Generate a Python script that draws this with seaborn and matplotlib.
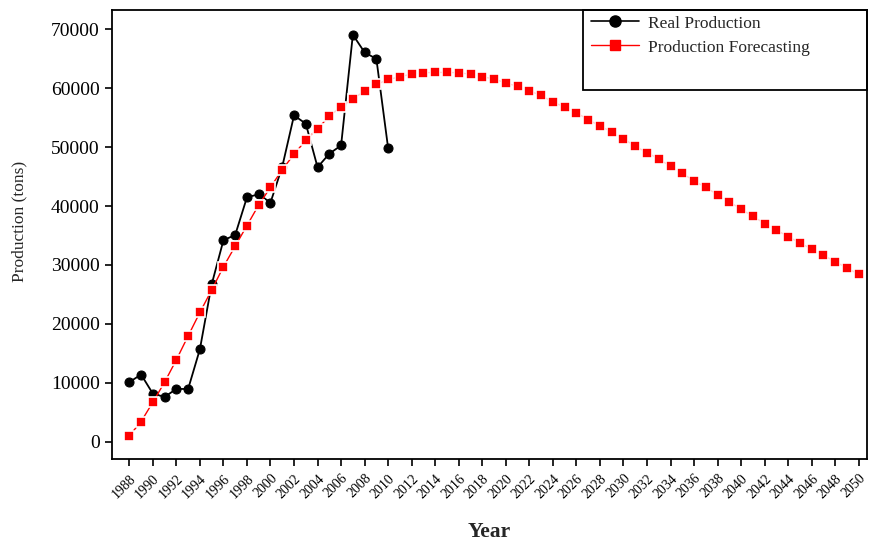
import numpy as np
import pandas as pd
import matplotlib
matplotlib.use("Agg")
import matplotlib.pyplot as plt
from matplotlib.lines import Line2D
from matplotlib.patches import Rectangle
import seaborn as sns

# ---- data ----
real_years = list(range(1988, 2011))
real_prod = [10100, 11400, 8150, 7600, 8950, 8950, 15700, 26700, 34200, 35100,
             41500, 42000, 40600, 46700, 55400, 54000, 46600, 48900, 50300,
             69100, 66100, 65000, 49800]

fc_years = list(range(1988, 2051))
fc_prod = [1000, 3400, 6700, 10100, 13900, 17950, 21950, 25750, 29700, 33200,
           36700, 40200, 43200, 46200, 48800, 51200, 53100, 55300, 56850, 58200,
           59550, 60650, 61500, 61950, 62450, 62650, 62700, 62700, 62650, 62400,
           61950, 61600, 60900, 60350, 59550, 58800, 57650, 56850, 55850, 54700,
           53600, 52600, 51450, 50150, 49100, 48000, 46750, 45600, 44250, 43200,
           41900, 40750, 39450, 38300, 37000, 35950, 34800, 33750, 32700, 31650,
           30550, 29500, 28400]

x_ticks = list(range(1988, 2051, 2))
y_ticks = list(range(0, 70001, 10000))

real_df = pd.DataFrame({"Year": real_years, "Production": real_prod})
fc_df = pd.DataFrame({"Year": fc_years, "Production": fc_prod})

# ---- style ----
sns.set_theme(style="ticks")
plt.rcParams["font.family"] = ["Liberation Serif", "DejaVu Serif"]
plt.rcParams["axes.linewidth"] = 1.3

fig = plt.figure(figsize=(8.69, 5.41), dpi=100)
ax = fig.add_axes([0.1285, 0.151, 0.8692, 0.8305])

sns.lineplot(data=real_df, x="Year", y="Production", ax=ax, color="black",
             marker="o", markersize=6.5, markeredgecolor="black",
             linewidth=1.3, zorder=3)
sns.lineplot(data=fc_df, x="Year", y="Production", ax=ax, color="red",
             marker="s", markersize=7, markeredgecolor="white",
             markeredgewidth=1.2, linewidth=1.0, zorder=4)

ax.set_xlim(1986.5, 2050.7)
ax.set_ylim(-3000, 73300)
ax.set_xticks(x_ticks)
ax.set_xticklabels([str(y) for y in x_ticks], rotation=45, ha="right",
                   rotation_mode="anchor", fontsize=10)
ax.set_yticks(y_ticks)
ax.set_yticklabels([str(v) for v in y_ticks], fontsize=14)
ax.tick_params(axis="both", direction="out", length=5, width=1.2,
               color="black", labelcolor="black")
ax.tick_params(axis="x", pad=4)

for side in ["top", "right", "left", "bottom"]:
    ax.spines[side].set_visible(True)
    ax.spines[side].set_color("black")

ax.set_xlabel("Year", fontsize=15.5, fontweight="bold", labelpad=15)
ax.set_ylabel("Production (tons)", fontsize=12.5)
ax.yaxis.set_label_coords(-0.112, 0.53)

# legend with a box that leaves empty room below the entries
handles = [
    Line2D([], [], color="black", marker="o", markersize=8, linewidth=1.2),
    Line2D([], [], color="red", marker="s", markersize=7, linewidth=1.0),
]
labels = ["Real Production", "Production Forecasting"]
ax.legend(handles, labels, loc="upper left", bbox_to_anchor=(0.634, 0.988),
          frameon=False, fontsize=12.5, handlelength=2.8, handletextpad=0.5,
          labelspacing=0.45, borderpad=0, borderaxespad=0)
ax.add_patch(Rectangle((0.624, 0.822), 0.376, 0.178, transform=ax.transAxes,
                       fill=False, edgecolor="black", linewidth=1.3,
                       clip_on=False, zorder=5))

fig.savefig("out.png", dpi=100)
